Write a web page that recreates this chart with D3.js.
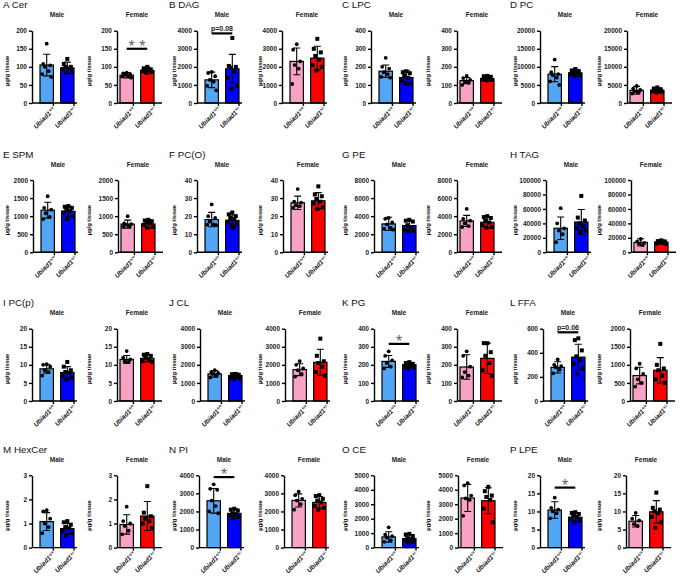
<!DOCTYPE html>
<html>
<head>
<meta charset="utf-8">
<script src="https://cdn.jsdelivr.net/npm/d3@7"></script>
<style>
  body { margin: 0; background: #fff; }
  svg { display: block; font-family: Arial, 'Liberation Sans', sans-serif; }
  .axis path, .axis line { stroke: #000; stroke-width: 1.4; }
  .axis text { font-size: 6.5px; font-weight: bold; fill: #222; }
  .axis text.geno { font-size: 6.5px; font-style: italic; fill: #111; }
  .panel-title { font-size: 9.8px; fill: #111; }
  .sex-title { font-size: 6.5px; font-weight: bold; fill: #222; }
  .y-label { font-size: 5.8px; font-weight: bold; fill: #111; }
</style>
</head>
<body>
<svg id="chart" width="685" height="581"></svg>
<script>
// ---- data ----
const panelNames = ['A Cer', 'B DAG', 'C LPC', 'D PC', 'E SPM', 'F PC(O)', 'G PE', 'H TAG',
  'I PC(p)', 'J CL', 'K PG', 'L FFA', 'M HexCer', 'N PI', 'O CE', 'P LPE'];
const sexes = ['Male', 'Female'];
const genotypes = ['+/+', '+/-'];

const yTicksMale = [
  [0, 50, 100, 150, 200], [0, 1000, 2000, 3000, 4000], [0, 100, 200, 300, 400], [0, 5000, 10000, 15000, 20000],
  [0, 500, 1000, 1500, 2000], [0, 10, 20, 30, 40], [0, 2000, 4000, 6000, 8000], [0, 20000, 40000, 60000, 80000, 100000],
  [0, 5, 10, 15, 20], [0, 1000, 2000, 3000, 4000], [0, 100, 200, 300, 400], [0, 200, 400, 600],
  [0, 1, 2, 3], [0, 1000, 2000, 3000, 4000], [0, 1000, 2000, 3000, 4000, 5000], [0, 5, 10, 15, 20]
];
const yTicksFemale = [
  [0, 50, 100, 150, 200], [0, 1000, 2000, 3000, 4000], [0, 100, 200, 300, 400], [0, 5000, 10000, 15000, 20000],
  [0, 500, 1000, 1500, 2000], [0, 10, 20, 30, 40], [0, 2000, 4000, 6000, 8000], [0, 20000, 40000, 60000, 80000, 100000],
  [0, 5, 10, 15, 20], [0, 1000, 2000, 3000, 4000], [0, 100, 200, 300, 400], [0, 500, 1000, 1500, 2000],
  [0, 1, 2, 3], [0, 1000, 2000, 3000, 4000], [0, 1000, 2000, 3000, 4000, 5000], [0, 5, 10, 15, 20]
];

const meanMale = [[105, 97], [1280, 1890], [176, 141], [7960, 8330], [1165, 1135], [18.1, 17.6], [3140, 2960], [33300, 41800],
  [8.9, 7.9], [1500, 1405], [219, 201], [279, 364], [1.08, 0.79], [2590, 1890], [740, 625], [10.4, 8.4]];
const sdMale = [[30, 16], [430, 800], [34, 40], [2100, 1000], [220, 135], [4, 3], [730, 590], [15500, 17500],
  [1.2, 1.6], [180, 145], [33, 13], [47, 107], [0.37, 0.21], [680, 270], [360, 280], [2.3, 1.2]];
const meanFemale = [[77, 90], [2300, 2480], [124, 135], [3500, 3500], [780, 785], [27.4, 28.5], [3470, 3320], [13700, 14200],
  [11.5, 11.8], [1735, 2140], [188, 236], [703, 850], [0.96, 1.31], [2610, 2500], [3430, 3240], [7.3, 9.9]];
const sdFemale = [[7.5, 9], [740, 660], [17, 14], [1100, 700], [110, 110], [3.7, 4.5], [620, 620], [5000, 2700],
  [1.1, 0.9], [330, 720], [68, 84], [230, 350], [0.4, 0.6], [360, 330], [930, 900], [1.6, 3.1]];

const dotsMale = [
  [[164, 108, 104, 100, 88, 80, 72], [122, 108, 100, 100, 96, 94, 87, 84]],
  [[1720, 1660, 1480, 1280, 1180, 950, 700], [3600, 2050, 2000, 1950, 1750, 1400, 950, 800]],
  [[250, 200, 190, 170, 160, 145, 140], [175, 170, 165, 150, 140, 125, 110, 108]],
  [[12000, 8500, 8000, 7700, 7000, 6000, 5000], [9400, 9000, 8800, 8600, 8300, 8000, 7800, 7500]],
  [[1550, 1230, 1180, 1080, 980, 920], [1280, 1260, 1230, 1200, 1150, 1100, 1000, 920]],
  [[26.5, 20, 19, 17, 15.5, 15.3, 15], [22, 21, 20, 19, 18.5, 17, 16, 15, 13.5]],
  [[3800, 3700, 3300, 3100, 2700, 2600, 2500], [3600, 3500, 3400, 3000, 2800, 2500, 2400, 2300]],
  [[61000, 40000, 33000, 30000, 25000, 14000], [78000, 48000, 44000, 40000, 36000, 33000, 30000, 28000]],
  [[10.2, 10, 9.5, 8.5, 8, 7], [10.8, 9.5, 8.5, 8, 7.8, 7, 6.5, 6]],
  [[1700, 1600, 1550, 1500, 1400, 1300], [1500, 1480, 1450, 1400, 1350, 1300, 1250, 1200]],
  [[275, 250, 225, 210, 190, 180], [215, 210, 205, 200, 195, 190, 185, 180]],
  [[345, 300, 290, 280, 260, 230], [520, 505, 420, 370, 340, 310, 270, 220]],
  [[1.55, 1.5, 1.2, 1.0, 0.85, 0.6], [1.1, 1.05, 0.95, 0.85, 0.8, 0.7, 0.6, 0.5]],
  [[3500, 3250, 3200, 2600, 2300, 2000, 1900], [2150, 2100, 2050, 1900, 1850, 1800, 1700, 1650]],
  [[1400, 900, 800, 700, 500, 400], [950, 900, 800, 650, 600, 500, 400, 350]],
  [[13.8, 11, 10.5, 10, 9.5, 8.1], [9.8, 9.6, 9.3, 9.0, 8.5, 8.0, 7.5, 7.0]]
];
const dotsFemale = [
  [[84, 82, 80, 78, 75, 73, 70], [100, 96, 93, 92, 90, 88, 86, 84]],
  [[3250, 2950, 2300, 2100, 1900, 1050], [3550, 3000, 2800, 2600, 2400, 2100, 2000, 1800]],
  [[150, 138, 128, 120, 112, 100], [150, 148, 145, 140, 135, 130, 128, 125]],
  [[4700, 4000, 3600, 3200, 3000, 2600], [4300, 4000, 3800, 3600, 3400, 3200, 3100, 2900]],
  [[1000, 800, 780, 760, 720, 700], [900, 880, 860, 830, 800, 760, 700, 680]],
  [[35, 28, 27.5, 26, 25.5, 24.5], [36.5, 32, 31, 29.5, 28, 27, 25, 24]],
  [[4800, 3700, 3500, 3200, 2900, 2800], [4000, 3900, 3800, 3500, 3300, 3000, 2800, 2700]],
  [[18500, 15000, 13000, 12000, 10000], [16500, 15500, 15000, 14000, 13000, 12000, 11500]],
  [[13.8, 12, 11.5, 11, 10.8], [13, 12.8, 12.5, 12, 11.5, 11, 10.8]],
  [[2200, 2000, 1800, 1700, 1500, 1350], [3450, 2500, 2200, 2100, 1900, 1600, 1400]],
  [[275, 250, 190, 160, 140, 130], [320, 320, 270, 250, 210, 170, 140]],
  [[1030, 900, 750, 600, 500, 400], [1580, 1000, 900, 850, 700, 600, 500]],
  [[1.7, 1.1, 1.0, 0.9, 0.7, 0.55], [2.55, 1.45, 1.3, 1.2, 1.1, 1.0, 0.8]],
  [[3100, 2900, 2700, 2600, 2400, 2100], [2900, 2850, 2700, 2600, 2500, 2300, 2200, 2100]],
  [[4450, 4300, 3600, 3400, 3300, 2200], [4200, 3900, 3600, 3500, 3300, 2700, 1750]],
  [[9.6, 8.0, 7.5, 6.5, 6.0], [15.2, 11, 10.5, 10, 9.5, 8.5, 7, 5.5]]
];

// significance brackets
const sigPanel = ['A Cer', 'B DAG', 'K PG', 'L FFA', 'N PI', 'P LPE'];
const sigSex = ['Female', 'Male', 'Male', 'Male', 'Male', 'Male'];
const sigLabel = ['* *', 'p=0.08', '*', 'p=0.06', '*', '*'];
const sigLevel = [150, 3850, 316, 570, 3900, 16.6];

// ---- layout ----
const rowTop = [30.7, 180, 328.7, 475.3];
const plotH = 72.3;
const axisLen = 45;
const titleX = [3, 169, 342, 510];
const maleAxisX = [32, 197, 371, 540, 33, 197, 374, 546, 32, 200, 374, 543, 32, 199, 374, 540];
const femaleAxisX = [117, 282, 457, 627, 118, 283, 457, 631, 117, 285, 457, 630, 117, 284, 458, 626];
const yLabelX = [[7, 89], [174, 260], [345, 428], [515, 599]];
const barColors = [['#52a6f4', '#0000ff'], ['#f8a2c6', '#ff0000']];
const jitter = [0, -3.5, 3.5, -2, 2, -4.5, 4.5, -1, 1];

const svg = d3.select('#chart');

panelNames.forEach((name, p) => {
  const col = p % 4, row = Math.floor(p / 4);
  const top = rowTop[row];

  svg.append('text')
    .attr('class', 'panel-title')
    .attr('x', titleX[col])
    .attr('y', top - 22.5)
    .text(name);

  sexes.forEach((sex, s) => {
    const ax = s === 0 ? maleAxisX[p] : femaleAxisX[p];
    const ticks = s === 0 ? yTicksMale[p] : yTicksFemale[p];
    const means = s === 0 ? meanMale[p] : meanFemale[p];
    const sds = s === 0 ? sdMale[p] : sdFemale[p];
    const dots = s === 0 ? dotsMale[p] : dotsFemale[p];
    // female plots sit closer to the y axis, except in the 2nd column
    const barStart = (s === 1 && col !== 1) ? 3 : 8;

    const g = svg.append('g').attr('transform', `translate(${ax},${top})`);

    const y = d3.scaleLinear().domain([0, d3.max(ticks)]).range([plotH, 0]);
    const x = d3.scaleBand().domain(genotypes)
      .range([barStart, barStart + 34])
      .paddingInner(0.35);
    const cx = d => x(d) + x.bandwidth() / 2;

    // sex header
    g.append('text')
      .attr('class', 'sex-title')
      .attr('x', barStart + 17)
      .attr('y', -13.3)
      .attr('text-anchor', 'middle')
      .text(sex);

    // y label
    g.append('text')
      .attr('class', 'y-label')
      .attr('transform', `translate(${yLabelX[col][s] - ax},${plotH / 2 + 4}) rotate(-90)`)
      .attr('text-anchor', 'middle')
      .attr('dy', '0.35em')
      .text('\u00b5g/g tissue');

    // bars
    g.selectAll('.bar')
      .data(genotypes)
      .join('rect')
      .attr('class', 'bar')
      .attr('x', d => x(d))
      .attr('width', x.bandwidth())
      .attr('y', (d, i) => y(means[i]))
      .attr('height', (d, i) => plotH - y(means[i]))
      .attr('fill', (d, i) => barColors[s][i])
      .attr('stroke', '#000')
      .attr('stroke-width', 1.2);

    // error bars (mean +/- SD)
    genotypes.forEach((gt, i) => {
      const hi = y(means[i] + sds[i]), lo = y(Math.max(0, means[i] - sds[i]));
      const c = cx(gt);
      g.append('path')
        .attr('d', `M${c},${lo}V${hi}M${c - 3.5},${hi}H${c + 3.5}M${c - 3.5},${lo}H${c + 3.5}`)
        .attr('stroke', '#000')
        .attr('stroke-width', 1.1)
        .attr('fill', 'none');
    });

    // individual animals
    g.selectAll('.dot-wt')
      .data(dots[0])
      .join('circle')
      .attr('class', 'dot-wt')
      .attr('cx', (d, j) => cx(genotypes[0]) + jitter[j % jitter.length])
      .attr('cy', d => y(d))
      .attr('r', 1.9)
      .attr('fill', '#000');

    g.selectAll('.dot-het')
      .data(dots[1])
      .join('rect')
      .attr('class', 'dot-het')
      .attr('x', (d, j) => cx(genotypes[1]) + jitter[j % jitter.length] - 2)
      .attr('y', d => y(d) - 2)
      .attr('width', 4)
      .attr('height', 4)
      .attr('fill', '#000');

    // axes
    g.append('g')
      .attr('class', 'axis')
      .call(d3.axisLeft(y).tickValues(ticks).tickSize(3).tickSizeOuter(0).tickPadding(2).tickFormat(d3.format('d')));

    const xAxisG = g.append('g')
      .attr('class', 'axis')
      .attr('transform', `translate(0,${plotH})`)
      .call(d3.axisBottom(x).tickSize(3).tickSizeOuter(0).tickFormat(''));
    xAxisG.select('.domain').attr('d', `M0,0H${axisLen}`);
    xAxisG.selectAll('.tick line').attr('x1', x.bandwidth() / 2).attr('x2', x.bandwidth() / 2);
    xAxisG.selectAll('.tick text').remove();

    xAxisG.selectAll('.tick')
      .append('text')
      .attr('class', 'geno')
      .attr('text-anchor', 'end')
      .attr('transform', `translate(${x.bandwidth() / 2 + 2.5},6.5) rotate(-45)`)
      .each(function (d) {
        const t = d3.select(this);
        t.append('tspan').text('Ubiad1');
        t.append('tspan').attr('dy', -2.2).attr('font-size', '4.3px').text(d);
      });

    // significance
    sigPanel.forEach((sp, k) => {
      if (sp !== name || sigSex[k] !== sex) return;
      const ly = y(sigLevel[k]);
      g.append('line')
        .attr('x1', cx(genotypes[0])).attr('x2', cx(genotypes[1]))
        .attr('y1', ly).attr('y2', ly)
        .attr('stroke', '#000')
        .attr('stroke-width', 2.2);
      const isP = sigLabel[k].startsWith('p');
      g.append('text')
        .attr('x', (cx(genotypes[0]) + cx(genotypes[1])) / 2)
        .attr('y', isP ? ly - 2.8 : ly + 3)
        .attr('text-anchor', 'middle')
        .attr('font-size', isP ? '7px' : '16px')
        .attr('font-weight', isP ? 'bold' : 'normal')
        .attr('fill', isP ? '#222' : '#5c6370')
        .text(sigLabel[k]);
    });
  });
});
</script>
</body>
</html>
